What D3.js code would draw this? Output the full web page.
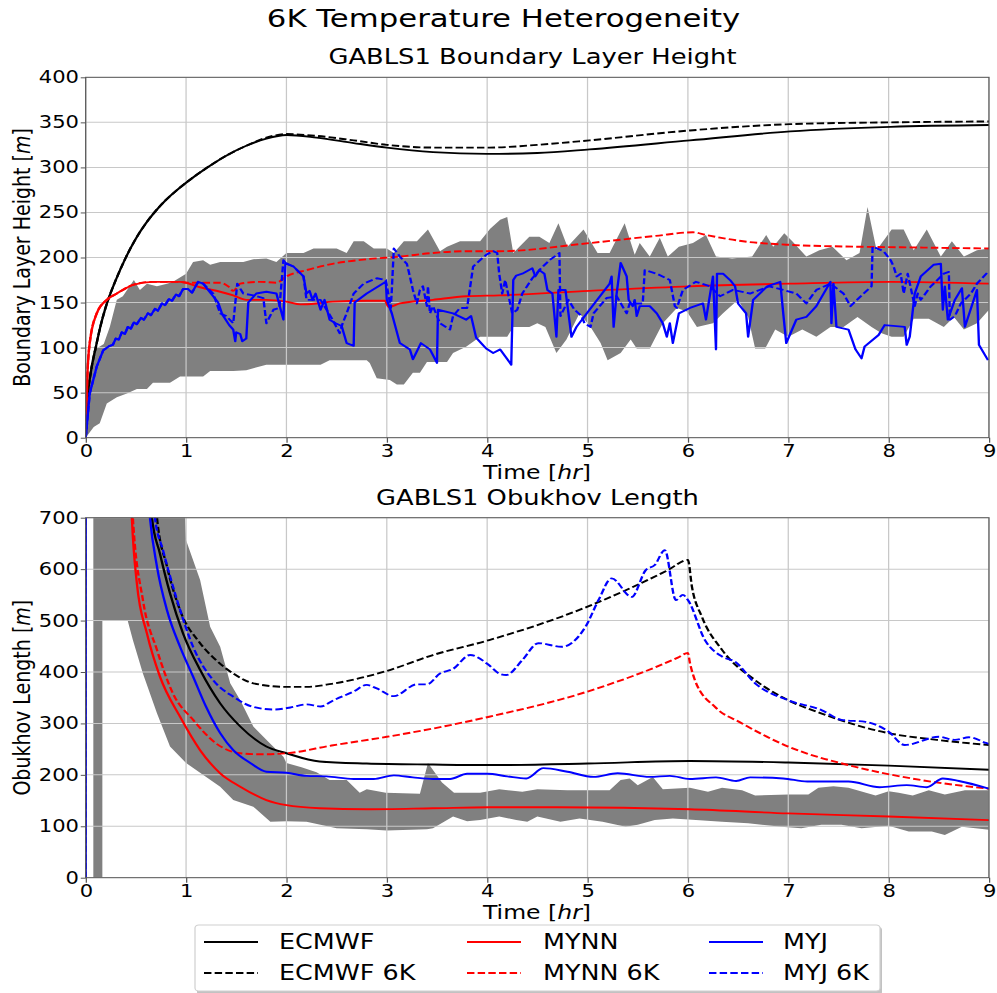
<!DOCTYPE html>
<html>
<head>
<meta charset="utf-8">
<script src="https://cdn.jsdelivr.net/npm/d3@7"></script>
<style>
  body { margin: 0; background: #fff; }
  svg { display: block; font-family: "DejaVu Sans", sans-serif; }
</style>
</head>
<body>
<div class="canvas"></div>
<script>
// tick labels
const timeTicks = d3.range(0, 10, 1);
const blhTicks = d3.range(0, 401, 50);
const obukTicks = d3.range(0, 701, 100);

// ---- boundary layer height [m], pairs of [time hr, value] ----
const blhEcmwf = [[0,0],[0.02,45],[0.05,72],[0.1,100],[0.15,125],[0.2,145],[0.3,175],[0.4,200],[0.5,221],[0.6,238],[0.7,252],[0.8,264],[0.9,274],[1.0,283],[1.2,299],[1.4,313],[1.6,324],[1.8,332],[2.0,336],[2.3,333],[2.67,327],[3.0,322],[3.46,317],[4.0,315],[4.5,316],[5.02,320],[6.02,330],[7.02,340],[8.02,345],[9,347]];
const blhEcmwf6k = [[0,0],[0.02,45],[0.05,72],[0.1,100],[0.15,125],[0.2,145],[0.3,175],[0.4,200],[0.5,221],[0.6,238],[0.7,252],[0.8,264],[0.9,274],[1.0,283],[1.2,299],[1.4,313],[1.6,324],[1.8,333],[2.0,337],[2.3,335],[2.67,330],[3.0,325],[3.46,322],[4.02,322],[4.5,325],[5.02,330],[6.02,341],[7.02,348],[8.02,350],[9,351]];
const blhMynn = [[0,0],[0.015,64],[0.04,105],[0.11,138],[0.21,153],[0.31,160],[0.48,170],[0.67,173],[0.94,173],[1.0,172],[1.14,167],[1.34,162],[1.47,158],[1.6,153],[1.8,153],[2.0,151],[2.14,148],[2.3,149],[2.46,151],[2.8,152],[2.98,152],[3.02,145],[3.13,149],[3.46,153],[3.79,157],[4.12,158],[5.02,163],[6.02,168],[7.02,171],[8.02,173],[9,171]];
const blhMynn6k = [[0,0],[0.015,64],[0.04,105],[0.11,138],[0.21,153],[0.31,160],[0.48,170],[0.67,173],[0.94,173],[1.0,172],[1.14,172],[1.34,172],[1.42,168],[1.47,163],[1.54,171],[1.74,173],[1.9,172],[2.0,179],[2.2,186],[2.46,193],[2.8,198],[3.13,201],[3.46,205],[3.79,207],[4.12,207],[5.02,216],[5.68,224],[6.05,228],[6.18,225],[6.55,218],[7.02,214],[7.68,212],[8.35,211],[9,210]];
const blhMyj = [[0,0],[0.04,49],[0.11,79],[0.175,97],[0.24,102],[0.27,103],[0.3,110],[0.33,109],[0.36,117],[0.39,115],[0.42,123],[0.45,121],[0.48,128],[0.51,126],[0.55,133],[0.58,131],[0.62,138],[0.65,136],[0.69,143],[0.72,141],[0.76,149],[0.79,147],[0.83,154],[0.86,152],[0.9,159],[0.93,157],[0.97,165],[1.02,165],[1.06,161],[1.12,173],[1.17,171],[1.27,157],[1.32,150],[1.36,137],[1.43,125],[1.47,120],[1.49,107],[1.5,117],[1.54,115],[1.56,107],[1.6,110],[1.62,150],[1.7,160],[1.8,162],[1.9,160],[1.97,131],[1.99,194],[2.07,190],[2.17,179],[2.2,160],[2.23,163],[2.26,153],[2.29,160],[2.34,142],[2.38,153],[2.43,131],[2.49,127],[2.55,124],[2.6,105],[2.67,102],[2.68,150],[2.8,160],[2.99,173],[3.0,153],[3.05,138],[3.13,105],[3.23,98],[3.26,87],[3.34,105],[3.43,98],[3.5,83],[3.51,142],[3.66,138],[3.79,131],[3.84,135],[3.89,111],[3.94,105],[3.99,99],[4.06,94],[4.13,98],[4.24,81],[4.26,175],[4.29,180],[4.35,182],[4.45,188],[4.48,179],[4.52,186],[4.57,182],[4.6,164],[4.65,160],[4.69,112],[4.71,164],[4.78,164],[4.84,112],[4.89,123],[5.02,142],[5.22,171],[5.24,179],[5.26,123],[5.29,160],[5.33,194],[5.39,179],[5.41,153],[5.45,146],[5.47,153],[5.49,135],[5.52,146],[5.62,146],[5.69,138],[5.75,127],[5.79,112],[5.82,127],[5.85,105],[5.91,138],[6.02,144],[6.15,149],[6.18,131],[6.25,179],[6.28,98],[6.29,182],[6.35,182],[6.42,175],[6.47,168],[6.5,149],[6.58,138],[6.6,112],[6.65,153],[6.79,168],[6.92,173],[6.95,138],[6.98,105],[7.08,131],[7.18,134],[7.28,146],[7.42,173],[7.43,127],[7.45,171],[7.48,123],[7.6,120],[7.67,98],[7.73,88],[7.76,101],[7.9,114],[7.96,125],[8.16,123],[8.18,103],[8.21,112],[8.26,160],[8.32,179],[8.45,192],[8.52,193],[8.54,142],[8.56,168],[8.59,131],[8.66,153],[8.73,166],[8.76,123],[8.88,164],[8.9,103],[8.99,86]];
const blhMyj6k = [[0,0],[0.04,49],[0.11,79],[0.175,97],[0.24,102],[0.27,103],[0.3,110],[0.33,109],[0.36,117],[0.39,115],[0.42,123],[0.45,121],[0.48,128],[0.51,126],[0.55,133],[0.58,131],[0.62,138],[0.65,136],[0.69,143],[0.72,141],[0.76,149],[0.79,147],[0.83,154],[0.86,152],[0.9,159],[0.93,157],[0.97,165],[1.02,165],[1.06,161],[1.12,173],[1.17,171],[1.27,160],[1.34,138],[1.4,135],[1.47,127],[1.51,171],[1.57,160],[1.67,158],[1.77,155],[1.8,127],[1.87,142],[1.93,144],[1.97,197],[2.0,193],[2.07,190],[2.17,179],[2.2,153],[2.34,153],[2.46,131],[2.53,116],[2.56,127],[2.6,138],[2.67,160],[2.77,171],[2.9,177],[2.99,175],[3.04,144],[3.05,164],[3.07,210],[3.13,201],[3.2,193],[3.23,179],[3.26,164],[3.3,149],[3.33,164],[3.36,168],[3.4,146],[3.41,168],[3.43,138],[3.46,146],[3.53,127],[3.63,120],[3.66,135],[3.73,144],[3.8,144],[3.86,190],[3.99,203],[4.06,207],[4.1,205],[4.12,182],[4.15,160],[4.18,175],[4.25,138],[4.3,142],[4.35,160],[4.45,177],[4.52,186],[4.62,197],[4.72,205],[4.73,135],[4.81,153],[4.87,142],[4.94,135],[4.97,127],[5.03,123],[5.06,138],[5.19,155],[5.29,157],[5.39,138],[5.42,149],[5.55,149],[5.57,186],[5.69,182],[5.82,175],[5.87,146],[5.89,144],[5.95,164],[6.08,173],[6.22,168],[6.32,157],[6.45,164],[6.62,160],[6.81,168],[6.95,164],[7.08,160],[7.18,149],[7.28,164],[7.42,171],[7.55,160],[7.62,146],[7.75,160],[7.83,168],[7.84,212],[7.95,207],[8.02,197],[8.05,190],[8.08,179],[8.12,182],[8.15,160],[8.19,182],[8.26,146],[8.29,160],[8.32,153],[8.42,168],[8.55,182],[8.6,184],[8.61,131],[8.66,135],[8.72,149],[8.82,160],[8.88,171],[8.99,184]];
const blhBandUpper = [[0,0],[0.02,60],[0.08,97],[0.18,104],[0.24,123],[0.31,153],[0.37,157],[0.48,175],[0.54,164],[0.61,171],[0.71,168],[0.81,171],[0.87,173],[1.0,182],[1.07,195],[1.17,197],[1.24,192],[1.34,195],[1.57,195],[1.67,198],[1.8,199],[1.9,195],[2.0,205],[2.17,205],[2.27,210],[2.5,210],[2.6,205],[2.67,218],[2.77,218],[2.87,210],[3.0,210],[3.07,205],[3.17,218],[3.3,218],[3.41,231],[3.53,207],[3.6,212],[3.73,218],[3.93,218],[4.03,232],[4.13,242],[4.2,245],[4.26,205],[4.42,223],[4.52,223],[4.62,216],[4.71,238],[4.8,212],[4.96,231],[5.1,205],[5.22,205],[5.37,238],[5.47,203],[5.52,216],[5.62,201],[5.72,222],[5.8,201],[5.91,212],[6.05,216],[6.18,225],[6.28,201],[6.44,199],[6.64,201],[6.78,225],[6.85,212],[6.96,227],[7.04,218],[7.18,201],[7.31,208],[7.44,212],[7.58,197],[7.71,205],[7.79,256],[7.88,208],[8.03,231],[8.15,231],[8.25,208],[8.38,231],[8.52,201],[8.63,218],[8.75,201],[8.88,208],[9,210]];
const blhBandLower = [[0,0],[0.08,12],[0.14,16],[0.21,38],[0.31,45],[0.41,49],[0.51,54],[0.61,54],[0.67,61],[0.84,61],[0.94,68],[1.17,68],[1.24,74],[1.47,74],[1.6,75],[1.8,81],[2.34,81],[2.43,86],[2.8,86],[2.83,83],[2.9,66],[3.03,64],[3.1,59],[3.17,59],[3.26,72],[3.33,72],[3.4,84],[3.6,84],[3.66,94],[3.79,101],[3.93,112],[4.03,112],[4.2,112],[4.26,123],[4.42,123],[4.5,127],[4.58,123],[4.69,94],[4.79,109],[4.92,138],[5.03,123],[5.13,105],[5.2,86],[5.33,94],[5.43,109],[5.49,99],[5.62,99],[5.75,127],[5.89,144],[5.99,140],[6.09,123],[6.25,127],[6.35,138],[6.5,153],[6.6,134],[6.67,99],[6.77,99],[6.87,120],[7.0,112],[7.14,120],[7.28,112],[7.42,123],[7.55,123],[7.69,134],[7.83,123],[7.93,116],[8.03,112],[8.15,112],[8.25,132],[8.4,132],[8.55,123],[8.65,134],[8.75,120],[8.88,127],[9,142]];

// ---- Obukhov length [m] ----
const obukEcmwf = [[0.5,1300],[0.6,900],[0.66,700],[0.74,630],[0.84,553],[0.97,475],[1.14,404],[1.34,339],[1.54,294],[1.8,255],[2.0,242],[2.33,226],[2.8,222],[3.46,220],[4.02,219],[5.0,222],[6.02,227],[7.0,224],[8.0,218],[9,210]];
const obukEcmwf6k = [[0.6,1100],[0.71,700],[0.81,605],[0.94,520],[1.14,456],[1.3,423],[1.47,397],[1.67,378],[2.0,371],[2.2,371],[2.45,377],[3.0,402],[3.46,433],[4.02,462],[5.0,527],[5.8,598],[6.0,618],[6.04,566],[6.14,507],[6.34,443],[6.67,384],[7.0,345],[7.32,320],[8.0,281],[8.48,268],[9,258]];
const obukMynn = [[0.4,1100],[0.46,700],[0.51,572],[0.61,475],[0.74,391],[0.94,313],[1.14,248],[1.34,203],[1.54,177],[1.8,151],[2.0,141],[2.33,135],[2.8,133],[3.46,135],[4.02,137],[4.7,137],[6.02,133],[7.0,125],[8.0,119],[9,112]];
const obukMynn6k = [[0.42,1000],[0.47,700],[0.57,540],[0.71,443],[0.87,358],[1.07,307],[1.3,261],[1.54,242],[1.74,240],[2.0,242],[2.45,257],[3.0,274],[3.46,290],[4.02,313],[5.0,362],[5.9,428],[6.0,437],[6.02,418],[6.07,384],[6.27,332],[6.54,300],[7.0,255],[7.66,216],[8.32,190],[9,173]];
const obukMyj = [[0,0],[0.003,3000],[0.4,1500],[0.6,800],[0.64,700],[0.71,605],[0.81,520],[0.94,449],[1.07,391],[1.2,332],[1.34,281],[1.47,248],[1.64,223],[1.8,206],[2.0,204],[2.2,198],[2.4,197],[2.67,192],[2.87,192],[3.07,199],[3.26,195],[3.46,192],[3.63,192],[3.8,202],[4.0,202],[4.2,197],[4.39,193],[4.56,213],[4.8,206],[5.06,196],[5.3,203],[5.62,196],[5.82,198],[6.02,192],[6.28,195],[6.48,188],[6.62,195],[6.95,193],[7.19,187],[7.6,187],[7.91,176],[8.18,180],[8.38,176],[8.54,193],[8.7,188],[9,173]];
const obukMyj6k = [[0,0],[0.003,3000],[0.5,1400],[0.69,700],[0.77,637],[0.91,540],[1.07,449],[1.27,384],[1.47,352],[1.67,332],[1.87,327],[2.04,331],[2.2,337],[2.34,333],[2.47,345],[2.67,362],[2.8,375],[2.9,368],[3.07,353],[3.3,376],[3.4,376],[3.53,397],[3.66,406],[3.83,433],[4.02,413],[4.12,397],[4.19,394],[4.35,423],[4.51,456],[4.74,449],[4.98,488],[5.11,540],[5.24,582],[5.44,546],[5.58,598],[5.67,608],[5.77,637],[5.88,540],[5.95,550],[6.0,540],[6.17,462],[6.34,430],[6.47,420],[6.67,378],[7.0,345],[7.33,326],[7.53,307],[7.77,303],[8.0,284],[8.16,258],[8.5,274],[8.66,268],[8.8,273],[8.97,262],[9,260]];
const obukBandUpper = [[0.076,3000],[0.95,3000],[0.99,700],[1.0,656],[1.14,579],[1.24,488],[1.34,449],[1.44,378],[1.54,345],[1.67,294],[1.8,268],[1.97,235],[2.0,223],[2.15,215],[2.3,205],[2.43,190],[2.6,190],[2.73,165],[2.8,172],[2.99,165],[3.33,163],[3.41,223],[3.55,185],[3.67,165],[3.93,165],[4.12,172],[4.35,167],[4.5,172],[4.8,170],[5.22,170],[5.33,190],[5.42,193],[5.5,180],[5.65,196],[5.75,172],[6.02,175],[6.2,167],[6.34,175],[6.54,170],[6.67,160],[7.0,162],[7.2,162],[7.3,175],[7.45,178],[7.6,175],[7.87,160],[8.0,168],[8.1,165],[8.24,160],[8.4,170],[8.56,162],[8.76,170],[9,170]];
const obukBandLower = [[0.076,0],[0.166,0],[0.166,500],[0.418,500],[0.47,462],[0.57,397],[0.71,320],[0.84,255],[1.0,223],[1.34,177],[1.47,151],[1.67,138],[1.84,109],[2.0,110],[2.2,109],[2.5,96],[2.8,94],[3.0,92],[3.4,94],[3.46,96],[3.66,119],[3.8,110],[3.93,112],[4.12,119],[4.29,112],[4.4,109],[4.5,119],[4.73,109],[4.92,115],[5.15,109],[5.38,99],[5.5,103],[5.67,112],[5.85,115],[6.08,112],[6.34,109],[6.6,106],[6.93,99],[7.13,96],[7.33,103],[7.53,103],[7.73,96],[8.0,101],[8.2,90],[8.43,90],[8.56,83],[8.73,99],[9,93]];

// the figure looks horizontally stretched, so draw in a narrower box and stretch it
const SX = 1.24;
const W = 997 / SX;
const H = 993;

const svg = d3.select('.canvas')
    .append('svg')
        .attr('width', 997)
        .attr('height', H)
        .attr('viewBox', `0 0 ${W} ${H}`)
        .attr('preserveAspectRatio', 'none');

const left = 85.7 / SX;
const right = 989 / SX;
const x = d3.scaleLinear().domain([0, 9]).range([left, right]);

svg.append('text')
    .attr('x', 503.5 / SX).attr('y', 27)
    .attr('text-anchor', 'middle')
    .attr('font-size', 24.8)
    .text('6K Temperature Heterogeneity');

function panel(opts) {
    const y = d3.scaleLinear().domain([0, opts.max]).range([opts.bottom, opts.top]);
    const g = svg.append('g');

    const clipId = 'clip' + opts.id;
    svg.append('clipPath').attr('id', clipId)
        .append('rect')
        .attr('x', left).attr('y', opts.top)
        .attr('width', right - left).attr('height', opts.bottom - opts.top);

    const plot = g.append('g').attr('clip-path', `url(#${clipId})`);

    // grey ensemble band
    const line = d3.line().x(d => x(d[0])).y(d => y(d[1]));
    plot.append('path')
        .attr('d', line(opts.upper.concat(opts.lower.slice().reverse())) + 'Z')
        .attr('fill', '#808080');

    // grid
    plot.append('g').selectAll('line').data(timeTicks).join('line')
        .attr('x1', d => x(d)).attr('x2', d => x(d))
        .attr('y1', opts.top).attr('y2', opts.bottom)
        .attr('stroke', '#c8c8c8').attr('stroke-width', 1);
    plot.append('g').selectAll('line').data(opts.ticks).join('line')
        .attr('x1', left).attr('x2', right)
        .attr('y1', d => y(d)).attr('y2', d => y(d))
        .attr('stroke', '#c8c8c8').attr('stroke-width', 1);

    opts.series.forEach(s => {
        plot.append('path')
            .datum(s.data)
            .attr('d', d3.line().x(d => x(d[0])).y(d => y(d[1])).curve(s.smooth ? d3.curveMonotoneX : d3.curveLinear))
            .attr('fill', 'none')
            .attr('stroke', s.color)
            .attr('stroke-width', 1.9)
            .attr('stroke-dasharray', s.dash ? '6,2.6' : null)
            .attr('stroke-linejoin', 'round');
    });

    // axes
    const xAxis = g.append('g')
        .attr('transform', `translate(0, ${opts.bottom})`)
        .call(d3.axisBottom(x).tickValues(timeTicks).tickSize(5).tickPadding(2.2));
    const yAxis = g.append('g')
        .attr('transform', `translate(${left}, 0)`)
        .call(d3.axisLeft(y).tickValues(opts.ticks).tickSize(4).tickPadding(1.4));
    [xAxis, yAxis].forEach(a => {
        a.select('.domain').remove();
        a.attr('font-family', '"DejaVu Sans", sans-serif').attr('font-size', 17);
        a.selectAll('line').attr('stroke', '#555');
        a.selectAll('text').attr('fill', '#000');
    });

    g.append('rect')
        .attr('x', left).attr('y', opts.top)
        .attr('width', right - left).attr('height', opts.bottom - opts.top)
        .attr('fill', 'none').attr('stroke', '#555').attr('stroke-width', 1);

    g.append('text')
        .attr('x', opts.titleX / SX).attr('y', opts.top - 13)
        .attr('text-anchor', 'middle').attr('font-size', 20.8)
        .text(opts.title);

    const xl = g.append('text')
        .attr('x', 537 / SX).attr('y', opts.bottom + 41.5)
        .attr('text-anchor', 'middle').attr('font-size', 19);
    xl.append('tspan').text('Time [');
    xl.append('tspan').attr('font-style', 'italic').text('hr');
    xl.append('tspan').text(']');

    const yl = g.append('text')
        .attr('transform', `translate(${30 / SX}, ${(opts.top + opts.bottom) / 2}) rotate(-90)`)
        .attr('text-anchor', 'middle').attr('font-size', 19);
    yl.append('tspan').text(opts.ylabel + ' [');
    yl.append('tspan').attr('font-style', 'italic').text('m');
    yl.append('tspan').text(']');
}

panel({
    id: 'blh', top: 77.3, bottom: 437.7, max: 400, ticks: blhTicks,
    title: 'GABLS1 Boundary Layer Height', titleX: 532.5, ylabel: 'Boundary Layer Height',
    upper: blhBandUpper, lower: blhBandLower,
    series: [
        {data: blhEcmwf, color: '#000000', smooth: true},
        {data: blhEcmwf6k, color: '#000000', dash: true, smooth: true},
        {data: blhMynn, color: '#ff0000', smooth: true},
        {data: blhMynn6k, color: '#ff0000', dash: true, smooth: true},
        {data: blhMyj, color: '#0000ff'},
        {data: blhMyj6k, color: '#0000ff', dash: true}
    ]
});

panel({
    id: 'obuk', top: 517.7, bottom: 877.7, max: 700, ticks: obukTicks,
    title: 'GABLS1 Obukhov Length', titleX: 537.5, ylabel: 'Obukhov Length',
    upper: obukBandUpper, lower: obukBandLower,
    series: [
        {data: obukEcmwf, color: '#000000', smooth: true},
        {data: obukEcmwf6k, color: '#000000', dash: true, smooth: true},
        {data: obukMynn, color: '#ff0000', smooth: true},
        {data: obukMynn6k, color: '#ff0000', dash: true, smooth: true},
        {data: obukMyj, color: '#0000ff', smooth: true},
        {data: obukMyj6k, color: '#0000ff', dash: true, smooth: true}
    ]
});

// legend
const legendItems = [
    {name: 'ECMWF', color: '#000000', dash: false, col: 0, row: 0},
    {name: 'ECMWF 6K', color: '#000000', dash: true, col: 0, row: 1},
    {name: 'MYNN', color: '#ff0000', dash: false, col: 1, row: 0},
    {name: 'MYNN 6K', color: '#ff0000', dash: true, col: 1, row: 1},
    {name: 'MYJ', color: '#0000ff', dash: false, col: 2, row: 0},
    {name: 'MYJ 6K', color: '#0000ff', dash: true, col: 2, row: 1}
];
const colLine = [204, 467, 709];
const colText = [279, 543, 783];
const rowY = [942, 973];

const legend = svg.append('g');
legend.append('rect')
    .attr('x', 197 / SX).attr('y', 927)
    .attr('width', (882 - 197) / SX).attr('height', 68)
    .attr('rx', 3).attr('fill', '#999').attr('opacity', 0.6);
legend.append('rect')
    .attr('x', 195 / SX).attr('y', 925)
    .attr('width', (880 - 195) / SX).attr('height', 66)
    .attr('rx', 3).attr('fill', '#fff').attr('stroke', '#d0d0d0');

const items = legend.selectAll('g.item').data(legendItems).join('g').attr('class', 'item');
items.append('line')
    .attr('x1', d => colLine[d.col] / SX).attr('x2', d => (colLine[d.col] + 54) / SX)
    .attr('y1', d => rowY[d.row]).attr('y2', d => rowY[d.row])
    .attr('stroke', d => d.color).attr('stroke-width', 1.9)
    .attr('stroke-dasharray', d => d.dash ? '6,2.6' : null);
items.append('text')
    .attr('x', d => colText[d.col] / SX).attr('y', d => rowY[d.row] + 7.5)
    .attr('font-size', 20.5)
    .text(d => d.name);
</script>
</body>
</html>
